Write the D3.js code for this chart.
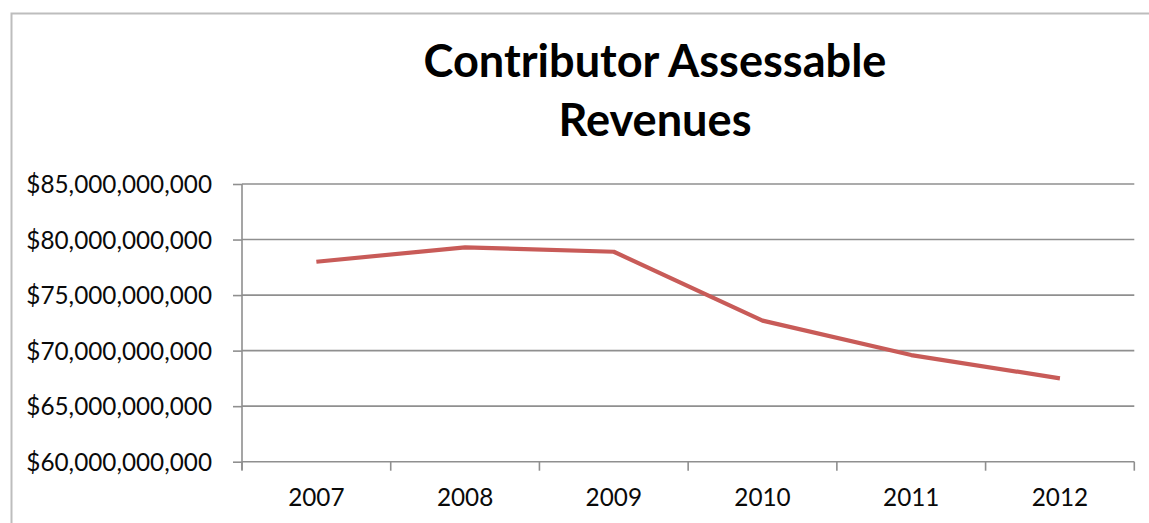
<!DOCTYPE html>
<html>
<head>
<meta charset="utf-8">
<script src="https://cdn.jsdelivr.net/npm/d3@7/dist/d3.min.js"></script>
<style>
  html, body { margin: 0; padding: 0; background: #fff; }
  svg { display: block; }
</style>
</head>
<body>
<svg id="chart" width="1149" height="523"></svg>
<script>
const titleLines = ["Contributor Assessable", "Revenues"];
const years = ["2007", "2008", "2009", "2010", "2011", "2012"];
const revenues = [78.0e9, 79.3e9, 78.9e9, 72.7e9, 69.6e9, 67.5e9];
const yTicks = [60e9, 65e9, 70e9, 75e9, 80e9, 85e9];

const svg = d3.select("#chart");
const W = 1149, H = 523;
const margin = { left: 242, right: 1149 - 1134.3, top: 184, bottom: 523 - 461.7 };

// outer chart frame (extends past the right/bottom edges)
svg.append("rect")
  .attr("x", 11.5).attr("y", 13.5)
  .attr("width", 1200).attr("height", 600)
  .attr("fill", "#fff")
  .attr("stroke", "#bdbdbd").attr("stroke-width", 2);

const x = d3.scaleBand().domain(years).range([margin.left, W - margin.right]).padding(0);
const y = d3.scaleLinear().domain([60e9, 85e9]).range([H - margin.bottom, margin.top]);

const fmt = d => "$" + d3.format(",.0f")(d);

// gridlines
svg.append("g").selectAll("line").data(yTicks.filter(d => d !== 60e9)).join("line")
  .attr("x1", margin.left).attr("x2", W - margin.right)
  .attr("y1", d => y(d)).attr("y2", d => y(d))
  .attr("stroke", "#8f8f8f").attr("stroke-width", 1.6);

// y axis
const yAxis = svg.append("g")
  .attr("transform", `translate(${margin.left},0)`)
  .call(d3.axisLeft(y).tickValues(yTicks).tickFormat(fmt).tickSize(9).tickPadding(21));
yAxis.select(".domain").attr("stroke", "#8f8f8f").attr("stroke-width", 1.6)
  .attr("d", `M0,${y(85e9)}V${y(60e9) + 8}`);
yAxis.selectAll(".tick line").attr("stroke", "#8f8f8f").attr("stroke-width", 1.6);
yAxis.selectAll(".tick text")
  .attr("font-family", "Lato, 'Open Sans', sans-serif")
  .attr("font-size", 24.3).attr("fill", "#0a0a0a").attr("dy", "0.36em");

// x axis
const xAxis = svg.append("g")
  .attr("transform", `translate(0,${y(60e9)})`)
  .call(d3.axisBottom(x).tickSize(0).tickPadding(0));
xAxis.select(".domain").attr("stroke", "#8f8f8f").attr("stroke-width", 1.6)
  .attr("d", `M${margin.left},0H${W - margin.right}`);
xAxis.selectAll(".tick text")
  .attr("font-family", "Lato, 'Open Sans', sans-serif")
  .attr("font-size", 24.3).attr("fill", "#0a0a0a")
  .attr("dy", 0).attr("y", 44);
// boundary tick marks between categories
const bounds = years.map(d => x(d)).concat([W - margin.right]);
xAxis.append("g").selectAll("line").data(bounds).join("line")
  .attr("x1", d => d).attr("x2", d => d)
  .attr("y1", 0).attr("y2", 9)
  .attr("stroke", "#8f8f8f").attr("stroke-width", 1.6);

// line
const line = d3.line()
  .x((d, i) => x(years[i]) + x.bandwidth() / 2)
  .y(d => y(d));
svg.append("path").datum(revenues)
  .attr("d", line)
  .attr("fill", "none")
  .attr("stroke", "#c85b58").attr("stroke-width", 4.2)
  .attr("stroke-linejoin", "round").attr("stroke-linecap", "butt");

// title
const titleTargetWidth = 463;
const titleBaselines = [77, 136];
const titles = svg.selectAll("text.title").data(titleLines).join("text")
  .attr("class", "title")
  .attr("x", 655).attr("y", (d, i) => titleBaselines[i])
  .attr("text-anchor", "middle")
  .attr("font-family", "Lato, 'Open Sans', sans-serif")
  .attr("font-weight", "bold")
  .attr("font-size", 40).attr("fill", "#000")
  .text(d => d);
const w0 = titles.nodes()[0].getComputedTextLength();
titles.attr("font-size", 40 * titleTargetWidth / w0);
</script>
</body>
</html>
